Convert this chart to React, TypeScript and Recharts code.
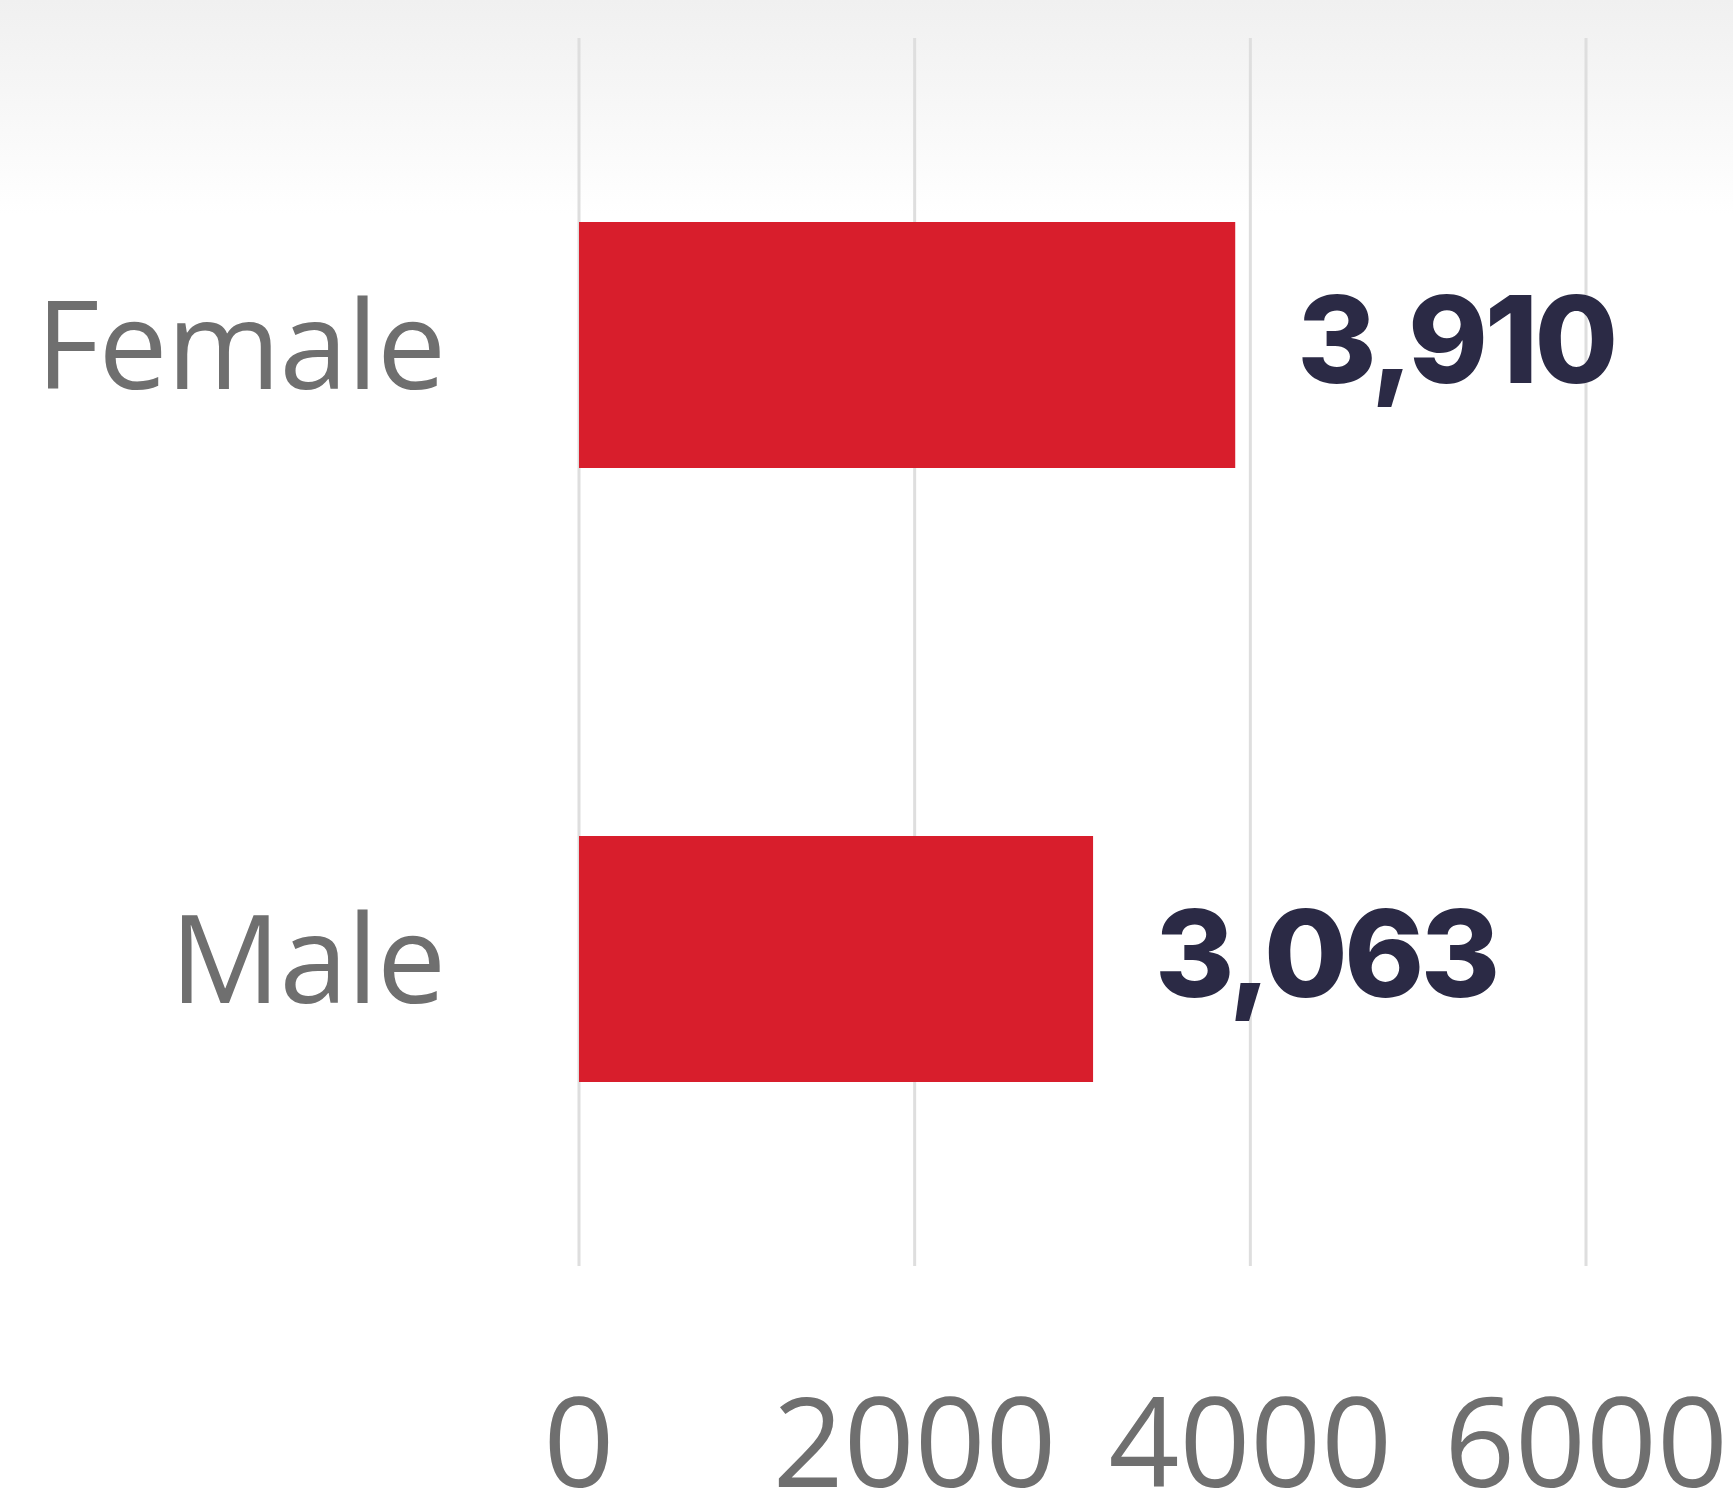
import React from "react";
import { BarChart, Bar, XAxis, YAxis, CartesianGrid, LabelList } from "recharts";

const categories = ["Female", "Male"];
const values = [3910, 3063];
const xTicks = [0, 2000, 4000, 6000];

const data = categories.map((name, i) => ({ name, value: values[i] }));

const W = 1733;
const H = 1496;

const renderValueLabel = (props: any) => {
  const { x, y, width, height, value } = props;
  const tx = Number(x) + Number(width) + 62;
  const ty = Number(y) + Number(height) / 2 - 6;
  return (
    <text
      x={tx}
      y={ty}
      dominantBaseline="central"
      textAnchor="start"
      fill="#2b2a45"
      fontFamily="Inter, 'Open Sans', sans-serif"
      fontWeight={800}
      fontSize={121}
      letterSpacing={-3.5}
    >
      {Number(value).toLocaleString("en-US")}
    </text>
  );
};

export default function App() {
  return (
    <div
      style={{
        position: "absolute",
        left: 0,
        top: 0,
        width: W,
        height: H,
        background: "linear-gradient(to bottom, #f0f0f0 0px, #f6f6f6 90px, #ffffff 215px, #ffffff 100%)",
      }}
    >
      <BarChart
        width={W}
        height={H}
        data={data}
        layout="vertical"
        margin={{ top: 38, right: 147, bottom: 0, left: 0 }}
        barCategoryGap="30%"
      >
        <CartesianGrid horizontal={false} vertical={true} stroke="#dedede" strokeWidth={3} />
        <XAxis
          type="number"
          domain={[0, 6000]}
          ticks={xTicks}
          height={230}
          axisLine={false}
          tickLine={false}
          tickSize={0}
          tickMargin={133}
          tick={{ fill: "#6f6f6f", fontSize: 124, fontFamily: "'Open Sans', sans-serif" }}
        />
        <YAxis
          type="category"
          dataKey="name"
          width={579}
          axisLine={false}
          tickLine={false}
          tickSize={0}
          tickMargin={134}
          tick={{ fill: "#6f6f6f", fontSize: 123, fontFamily: "'Open Sans', sans-serif", letterSpacing: -1 }}
        />
        <Bar dataKey="value" fill="#d81e2c" barSize={246} isAnimationActive={false}>
          <LabelList dataKey="value" content={renderValueLabel} />
        </Bar>
      </BarChart>
    </div>
  );
}
